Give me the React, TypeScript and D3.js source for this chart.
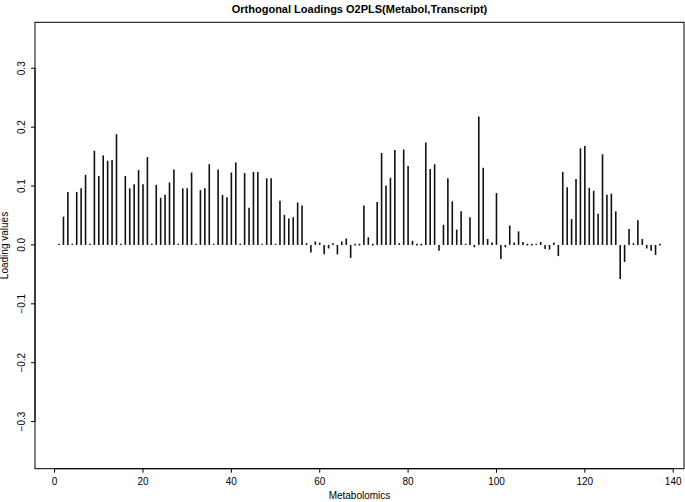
import React from "react";
import * as d3 from "d3";

const W = 685;
const H = 502;

// plot region (R style box)
const LEFT = 35;
const RIGHT = 684;
const TOP = 22.3;
const BOTTOM = 468.7;

const title = "Orthogonal Loadings O2PLS(Metabol,Transcript)";
const xLabel = "Metabolomics";
const yLabel = "Loading values";

const xTicks = [0, 20, 40, 60, 80, 100, 120, 140];
const yTicks = [-0.3, -0.2, -0.1, 0.0, 0.1, 0.2, 0.3];

// loading values for metabolites 1..137
const loadings = [
  0.002, 0.048, 0.09, 0.002, 0.09, 0.096, 0.119, 0.002, 0.16, 0.117,
  0.152, 0.143, 0.144, 0.188, 0.002, 0.117, 0.096, 0.103, 0.127, 0.103,
  0.149, 0.002, 0.102, 0.08, 0.085, 0.106, 0.128, 0.002, 0.096, 0.096,
  0.123, 0.002, 0.093, 0.096, 0.137, 0.002, 0.128, 0.085, 0.081, 0.123,
  0.14, 0.002, 0.122, 0.063, 0.124, 0.124, 0.002, 0.113, 0.113, 0.002,
  0.075, 0.051, 0.045, 0.047, 0.072, 0.067, 0.003, -0.013, 0.006, 0.004,
  -0.016, -0.006, 0.003, -0.016, 0.006, 0.011, -0.022, 0.001, 0.001, 0.067,
  0.013, 0.001, 0.073, 0.156, 0.101, 0.114, 0.161, 0.003, 0.162, 0.134,
  0.007, 0.001, 0.001, 0.174, 0.129, 0.137, -0.01, 0.034, 0.113, 0.074,
  0.026, 0.057, 0.002, 0.047, -0.004, 0.218, 0.131, 0.01, 0.004, 0.088,
  -0.024, -0.004, 0.033, 0.004, 0.023, 0.005, 0.001, 0.001, 0.002, 0.005,
  -0.007, -0.008, 0.004, -0.019, 0.124, 0.098, 0.044, 0.112, 0.164, 0.168,
  0.097, 0.092, 0.053, 0.154, 0.085, 0.087, 0.057, -0.058, -0.029, 0.027,
  0.003, 0.042, 0.01, -0.006, -0.01, -0.017, 0.001,
];

const FONT = "'Liberation Sans', Arial, sans-serif";

export default function App() {
  const x = d3.scaleLinear().domain([-4.44, 142.44]).range([LEFT, RIGHT]);
  const y = d3.scaleLinear().domain([-0.38, 0.378]).range([BOTTOM, TOP]);
  const y0 = y(0);

  return (
    <svg
      width={W}
      height={H}
      style={{ position: "absolute", left: 0, top: 0, display: "block", background: "#fff" }}
      fontFamily={FONT}
    >
      <text x={(LEFT + RIGHT) / 2} y={13} textAnchor="middle" fontSize={11} fontWeight="bold">
        {title}
      </text>

      {/* spikes, type = "h" */}
      <g stroke="#111" strokeWidth={1.6}>
        {loadings.map((v, i) => {
          const yy = y(v);
          const lo = Math.min(yy, y0);
          const hi = Math.max(yy, y0);
          // keep tiny values visible as a small dot like the original
          const pad = hi - lo < 1 ? 0.6 : 0;
          return (
            <line key={i} x1={x(i + 1)} x2={x(i + 1)} y1={lo - pad} y2={hi + pad} />
          );
        })}
      </g>

      <rect x={LEFT} y={TOP} width={RIGHT - LEFT} height={BOTTOM - TOP} fill="none" stroke="#000" strokeWidth={1} />

      {/* x axis */}
      <g fontSize={10}>
        <line x1={x(0)} x2={x(140)} y1={BOTTOM} y2={BOTTOM} stroke="#000" />
        {xTicks.map((t) => (
          <g key={t}>
            <line x1={x(t)} x2={x(t)} y1={BOTTOM} y2={BOTTOM + 4} stroke="#000" />
            <text x={x(t)} y={485} textAnchor="middle">
              {t}
            </text>
          </g>
        ))}
        <text x={(LEFT + RIGHT) / 2} y={499} textAnchor="middle">
          {xLabel}
        </text>
      </g>

      {/* y axis */}
      <g fontSize={10}>
        <line x1={LEFT} x2={LEFT} y1={y(-0.3)} y2={y(0.3)} stroke="#000" />
        {yTicks.map((t) => (
          <g key={t}>
            <line x1={LEFT - 4} x2={LEFT} y1={y(t)} y2={y(t)} stroke="#000" />
            <text transform={`translate(24.5,${y(t)}) rotate(-90)`} textAnchor="middle">
              {d3.format(".1f")(t)}
            </text>
          </g>
        ))}
        <text transform={`translate(8,${(TOP + BOTTOM) / 2}) rotate(-90)`} textAnchor="middle">
          {yLabel}
        </text>
      </g>
    </svg>
  );
}
